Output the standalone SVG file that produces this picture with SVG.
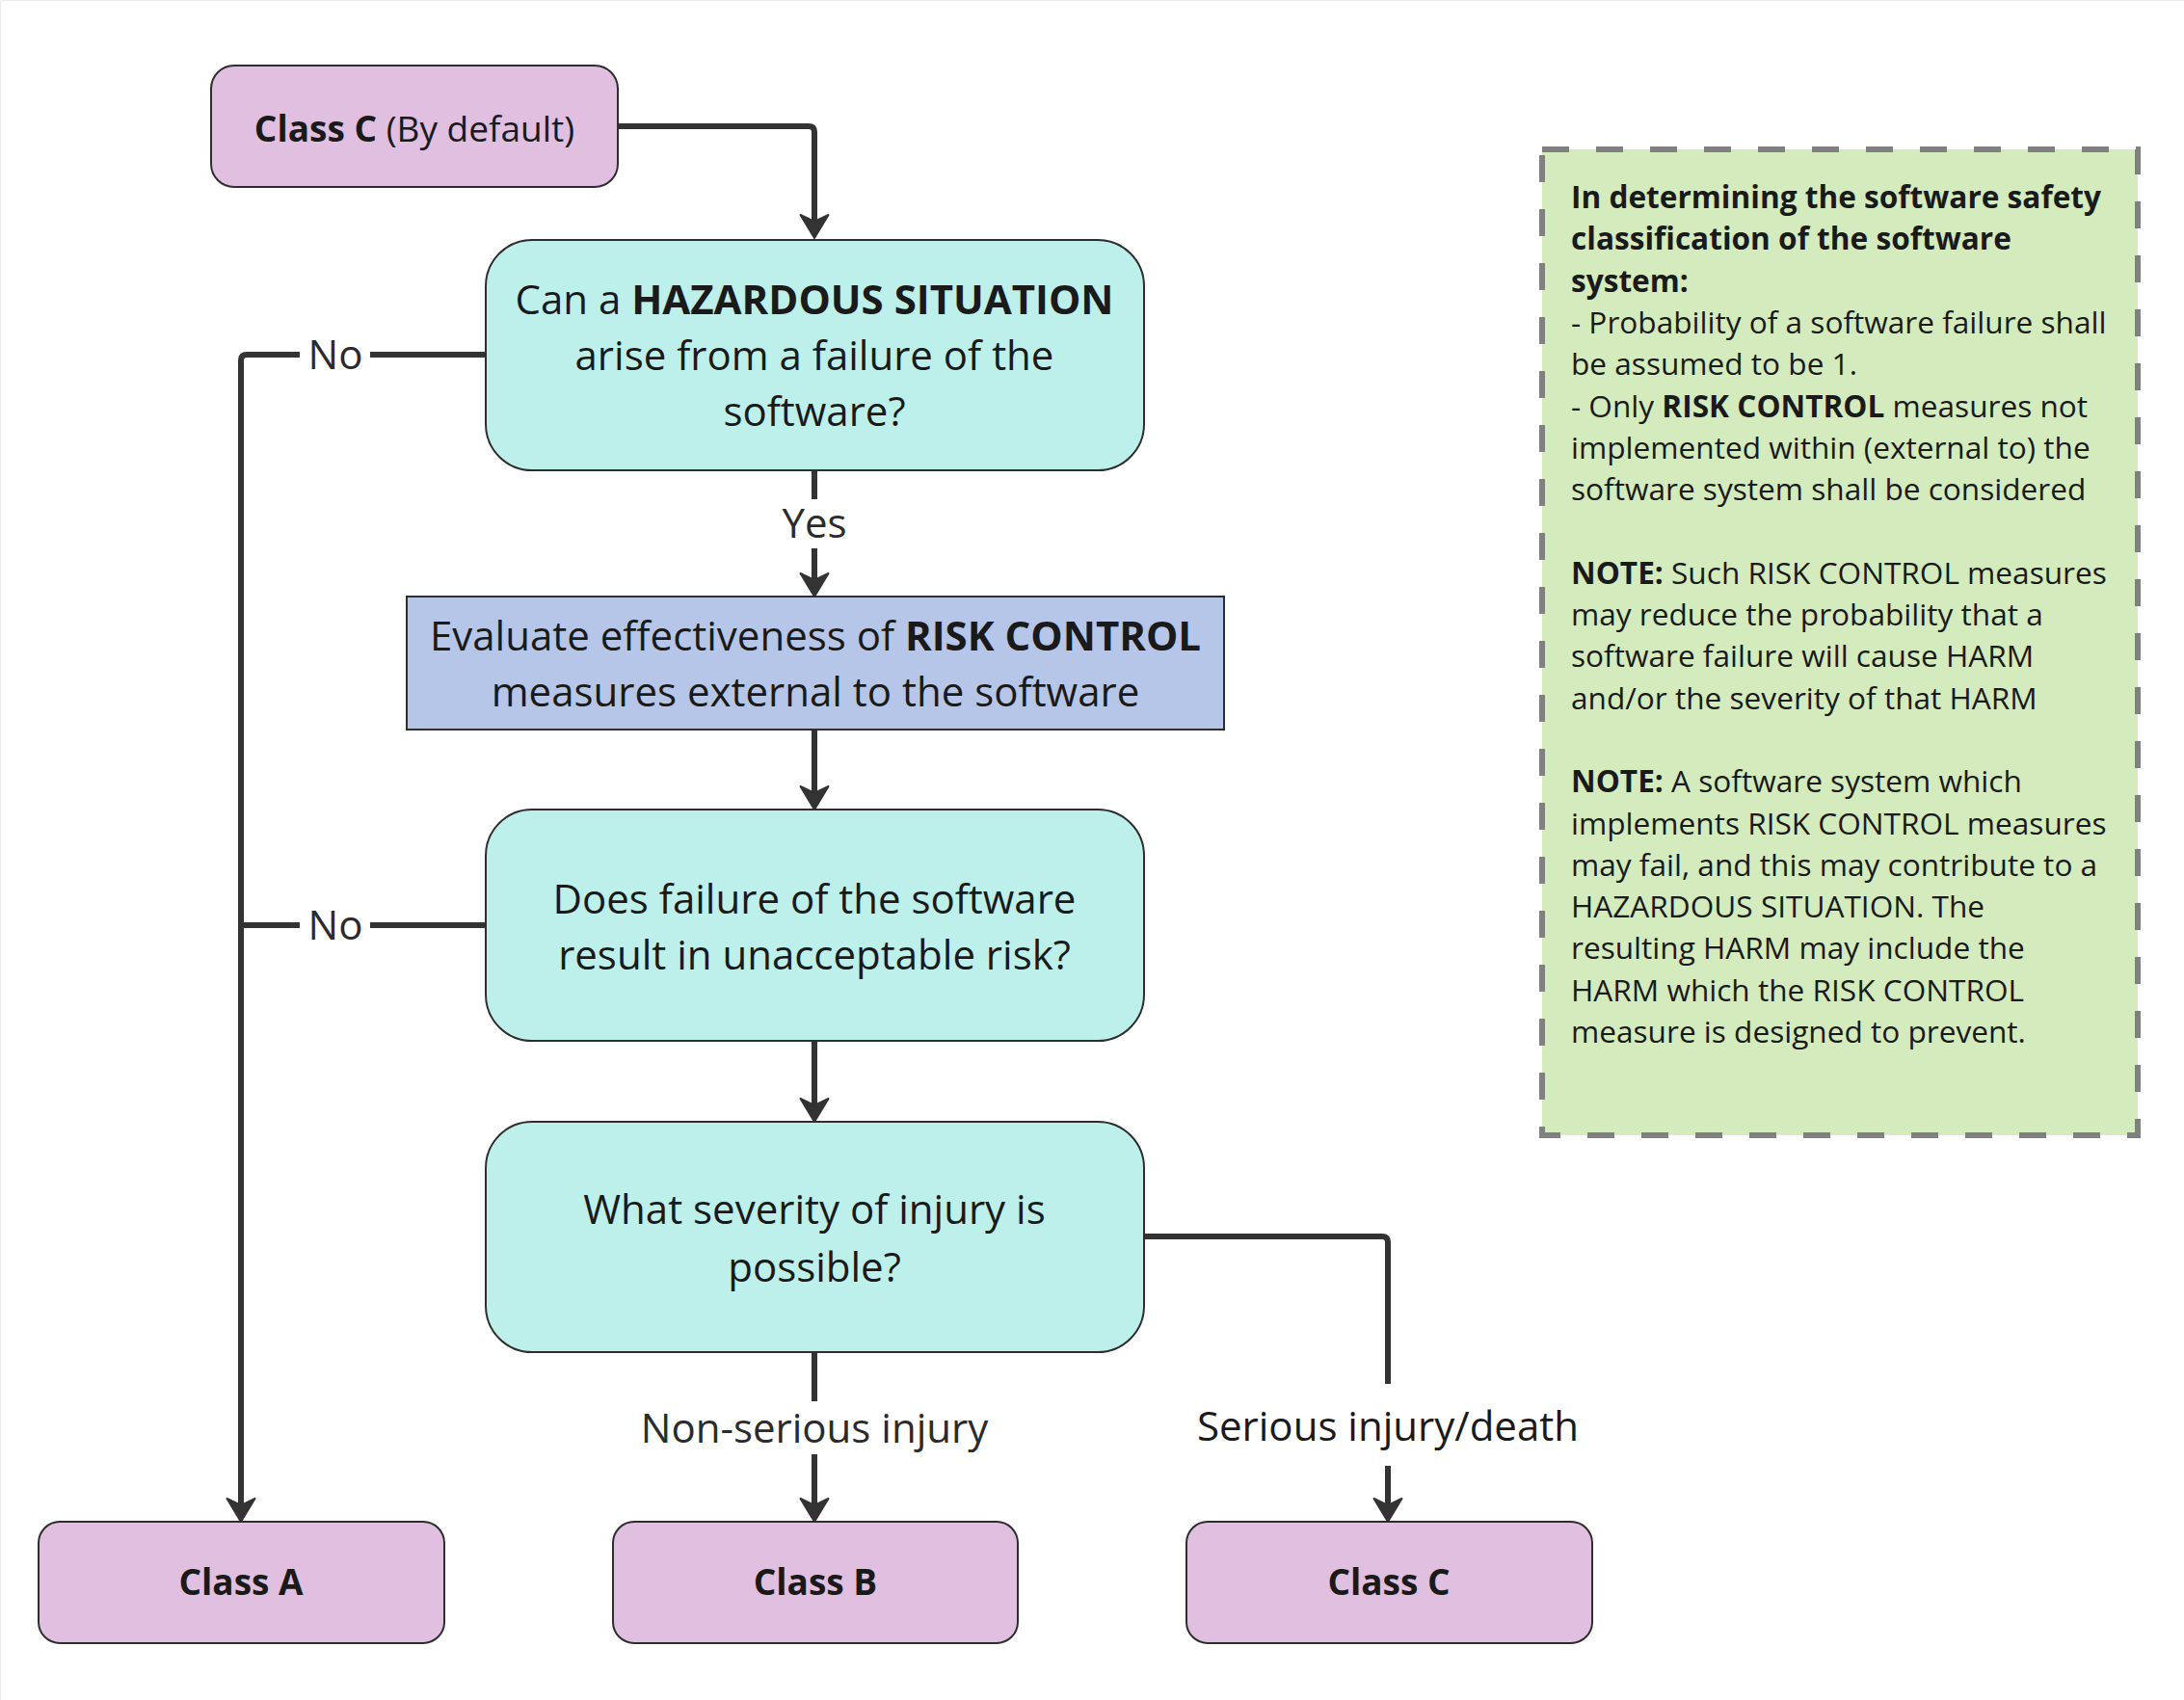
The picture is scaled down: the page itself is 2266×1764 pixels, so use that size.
<svg xmlns="http://www.w3.org/2000/svg" width="2266" height="1764" viewBox="0 0 2266 1764">
<defs>
<style>
.t{font-family:"Open Sans","Noto Sans","Liberation Sans",sans-serif;fill:#1a1a1a;text-anchor:middle}
.main{font-size:42px}
.cls{font-size:37px;font-weight:bold}
.b{font-weight:bold}
.lbl{font-family:"Open Sans","Noto Sans","Liberation Sans",sans-serif;font-size:42px;fill:#2b2b2b;text-anchor:middle}
.note{font-family:"Open Sans","Noto Sans","Liberation Sans",sans-serif;font-size:31.6px;fill:#1a1a1a}
.teal{fill:#bdf0eb;stroke:#2e2e2e;stroke-width:2}
.purple{fill:#e0bfe1;stroke:#2e2e2e;stroke-width:2}
.blue{fill:#b5c6e8;stroke:#2e2e2e;stroke-width:2}
.conn{fill:none;stroke:#333333;stroke-width:6}
.bg{fill:#ffffff}
</style>
<marker id="arr" markerUnits="userSpaceOnUse" viewBox="0 -16 26 32" markerWidth="26" markerHeight="32" refX="7" refY="0" orient="auto" overflow="visible">
<path d="M24 0 L0 -14.5 L7 0 L0 14.5 Z" fill="#333333" stroke="#333333" stroke-width="2" stroke-linejoin="round"/>
</marker>
</defs>
<rect x="0" y="0" width="2266" height="1764" fill="#ffffff"/>
<path d="M0.5 1764 V0.5 H2266" fill="none" stroke="#ececec" stroke-width="1"/>

<g id="connectors">
<path class="conn" d="M641 131 H839 Q845 131 845 137 V230" marker-end="url(#arr)"/>
<path class="conn" d="M504 368 H256 Q250 368 250 374 V1562" marker-end="url(#arr)"/>
<path class="conn" d="M845 488 V602" marker-end="url(#arr)"/>
<path class="conn" d="M845 757 V823" marker-end="url(#arr)"/>
<path class="conn" d="M504 960 H250"/>
<path class="conn" d="M845 1080 V1147" marker-end="url(#arr)"/>
<path class="conn" d="M845 1403 V1562" marker-end="url(#arr)"/>
<path class="conn" d="M1187 1283 H1434 Q1440 1283 1440 1289 V1562" marker-end="url(#arr)"/>
<rect class="bg" x="311" y="340" width="73" height="56"/>
<text class="lbl" x="348" y="383" fill="#1a1a1a">No</text>
<rect class="bg" x="311" y="932" width="73" height="56"/>
<text class="lbl" x="348" y="975" fill="#1a1a1a">No</text>
<rect class="bg" x="805" y="518" width="80" height="51"/>
<text class="lbl" x="845" y="558">Yes</text>
<rect class="bg" x="655" y="1454" width="380" height="55"/>
<text class="lbl" x="845" y="1497">Non-serious injury</text>
<rect class="bg" x="1230" y="1436" width="420" height="85"/>
<text class="lbl" x="1440" y="1495" style="fill:#1a1a1a">Serious injury/death</text>
</g>

<g id="node-classC-default">
<rect class="purple" x="219" y="68" width="422" height="126" rx="24"/>
<text class="t" x="430" y="147" style="font-size:37px"><tspan class="b">Class C</tspan> (By default)</text>
</g>

<g id="node-hazard">
<rect class="teal" x="504" y="249" width="683" height="239" rx="48"/>
<text class="t main" x="845" y="326">Can a <tspan class="b">HAZARDOUS SITUATION</tspan></text>
<text class="t main" x="845" y="384">arise from a failure of the</text>
<text class="t main" x="845" y="442">software?</text>
</g>

<g id="node-evaluate">
<rect class="blue" x="422" y="619" width="848" height="138"/>
<text class="t main" x="846" y="675">Evaluate effectiveness of <tspan class="b">RISK CONTROL</tspan></text>
<text class="t main" x="846" y="733">measures external to the software</text>
</g>

<g id="node-risk">
<rect class="teal" x="504" y="840" width="683" height="240" rx="48"/>
<text class="t main" x="845" y="948">Does failure of the software</text>
<text class="t main" x="845" y="1006">result in unacceptable risk?</text>
</g>

<g id="node-severity">
<rect class="teal" x="504" y="1164" width="683" height="239" rx="48"/>
<text class="t main" x="845" y="1270">What severity of injury is</text>
<text class="t main" x="845" y="1330">possible?</text>
</g>

<g id="node-classA">
<rect class="purple" x="40" y="1579" width="421" height="126" rx="22"/>
<text class="t cls" x="250" y="1655">Class A</text>
</g>
<g id="node-classB">
<rect class="purple" x="636" y="1579" width="420" height="126" rx="22"/>
<text class="t cls" x="846" y="1655">Class B</text>
</g>
<g id="node-classC">
<rect class="purple" x="1231" y="1579" width="421" height="126" rx="22"/>
<text class="t cls" x="1441" y="1655">Class C</text>
</g>

<g id="note">
<rect x="1600" y="155" width="618" height="1023" fill="#d4ebbd" stroke="#808080" stroke-width="6" stroke-dasharray="28 28"/>
<text class="note" x="1630" y="216">
<tspan x="1630" y="216" class="b">In determining the software safety</tspan>
<tspan x="1630" y="259.3" class="b">classification of the software</tspan>
<tspan x="1630" y="302.6" class="b">system:</tspan>
<tspan x="1630" y="345.9">- Probability of a software failure shall</tspan>
<tspan x="1630" y="389.2">be assumed to be 1.</tspan>
<tspan x="1630" y="432.5">- Only <tspan class="b">RISK CONTROL</tspan> measures not</tspan>
<tspan x="1630" y="475.8">implemented within (external to) the</tspan>
<tspan x="1630" y="519.1">software system shall be considered</tspan>
<tspan x="1630" y="605.7"><tspan class="b">NOTE:</tspan> Such RISK CONTROL measures</tspan>
<tspan x="1630" y="649">may reduce the probability that a</tspan>
<tspan x="1630" y="692.3">software failure will cause HARM</tspan>
<tspan x="1630" y="735.6">and/or the severity of that HARM</tspan>
<tspan x="1630" y="822.2"><tspan class="b">NOTE:</tspan> A software system which</tspan>
<tspan x="1630" y="865.5">implements RISK CONTROL measures</tspan>
<tspan x="1630" y="908.8">may fail, and this may contribute to a</tspan>
<tspan x="1630" y="952.1">HAZARDOUS SITUATION. The</tspan>
<tspan x="1630" y="995.4">resulting HARM may include the</tspan>
<tspan x="1630" y="1038.7">HARM which the RISK CONTROL</tspan>
<tspan x="1630" y="1082">measure is designed to prevent.</tspan>
</text>
</g>
</svg>
